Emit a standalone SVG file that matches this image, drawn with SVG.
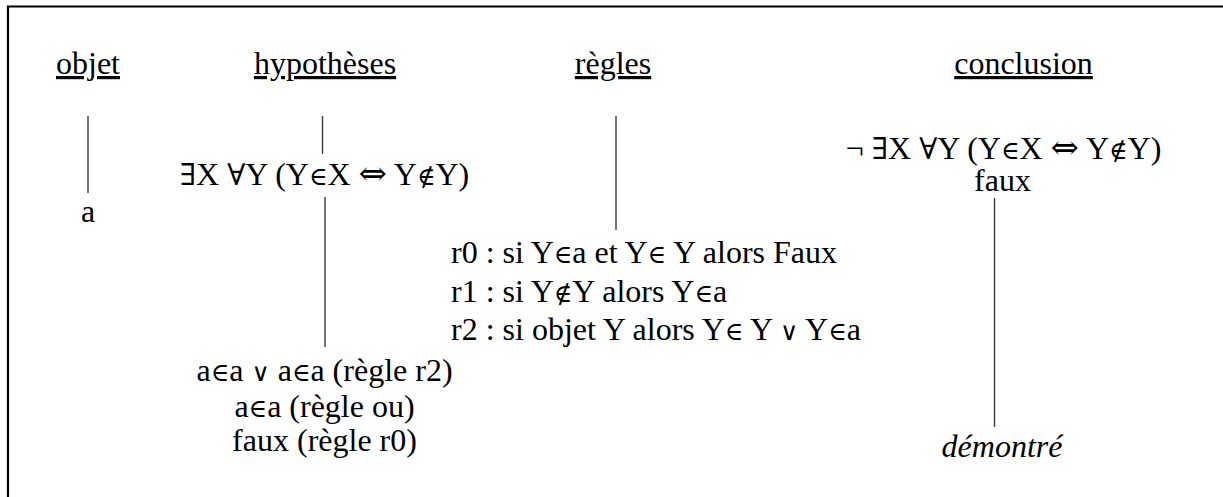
<svg xmlns="http://www.w3.org/2000/svg" width="1223" height="497" viewBox="0 0 1223 497">
  <style>
    text { font-family: "Liberation Serif", "DejaVu Serif", serif; font-size: 32px; fill: #000; }
    .c { text-anchor: middle; }
    .h { text-decoration: underline; }
    .it { font-style: italic; }
    .s { font-family: "DejaVu Serif", "Liberation Serif", serif; font-size: 25px; }
    .q { font-family: "DejaVu Serif", "Liberation Serif", serif; font-size: 30px; }
    .w { font-size: 34px; }
    .link { stroke: #3a3a3a; stroke-width: 1.4; fill: none; }
  </style>
  <rect width="1223" height="497" fill="#fff"/>
  <!-- frame: only top and left edges fall inside the canvas -->
  <path d="M8 497 V6.5 H1223" fill="none" stroke="#000" stroke-width="2.2"/>

  <g id="connectors">
    <line class="link" x1="88" y1="116" x2="88" y2="193"/>
    <line class="link" x1="322.5" y1="116" x2="322.5" y2="154"/>
    <line class="link" x1="325" y1="197" x2="325" y2="347"/>
    <line class="link" x1="616" y1="116" x2="616" y2="230"/>
    <line class="link" x1="994.5" y1="198" x2="994.5" y2="427"/>
  </g>

  <g id="col-objet">
    <text class="c h" x="88" y="74">objet</text>
    <text class="c" x="88" y="222">a</text>
  </g>

  <g id="col-hypotheses">
    <text class="c h" x="325" y="74">hypothèses</text>
    <text class="c" x="324.5" y="185"><tspan class="q">∃</tspan>X <tspan class="q">∀</tspan>Y (Y<tspan class="s">∈</tspan>X <tspan class="s w">⇔</tspan> Y<tspan class="s">∉</tspan>Y)</text>
  </g>

  <g id="derivation">
    <text class="c" x="324.5" y="381">a<tspan class="s">∈</tspan>a <tspan class="s">∨</tspan> a<tspan class="s">∈</tspan>a (règle r2)</text>
    <text class="c" x="324.5" y="416.5">a<tspan class="s">∈</tspan>a (règle ou)</text>
    <text class="c" x="324.5" y="451">faux (règle r0)</text>
  </g>

  <g id="col-regles">
    <text class="c h" x="613" y="74">règles</text>
  </g>

  <g id="rules">
    <text x="451" y="263">r0 : si Y<tspan class="s">∈</tspan>a et Y<tspan class="s">∈</tspan> Y alors Faux</text>
    <text x="451" y="301.5">r1 : si Y<tspan class="s">∉</tspan>Y alors Y<tspan class="s">∈</tspan>a</text>
    <text x="451" y="340">r2 : si objet Y alors Y<tspan class="s">∈</tspan> Y <tspan class="s">∨</tspan> Y<tspan class="s">∈</tspan>a</text>
  </g>

  <g id="col-conclusion">
    <text class="c h" x="1023.5" y="74">conclusion</text>
    <text class="c" x="1003.5" y="159">¬ <tspan class="q">∃</tspan>X <tspan class="q">∀</tspan>Y (Y<tspan class="s">∈</tspan>X <tspan class="s w">⇔</tspan> Y<tspan class="s">∉</tspan>Y)</text>
    <text class="c" x="1002.5" y="191">faux</text>
  </g>

  <g id="result">
    <text class="c it" x="1002" y="456.5">démontré</text>
  </g>
</svg>
